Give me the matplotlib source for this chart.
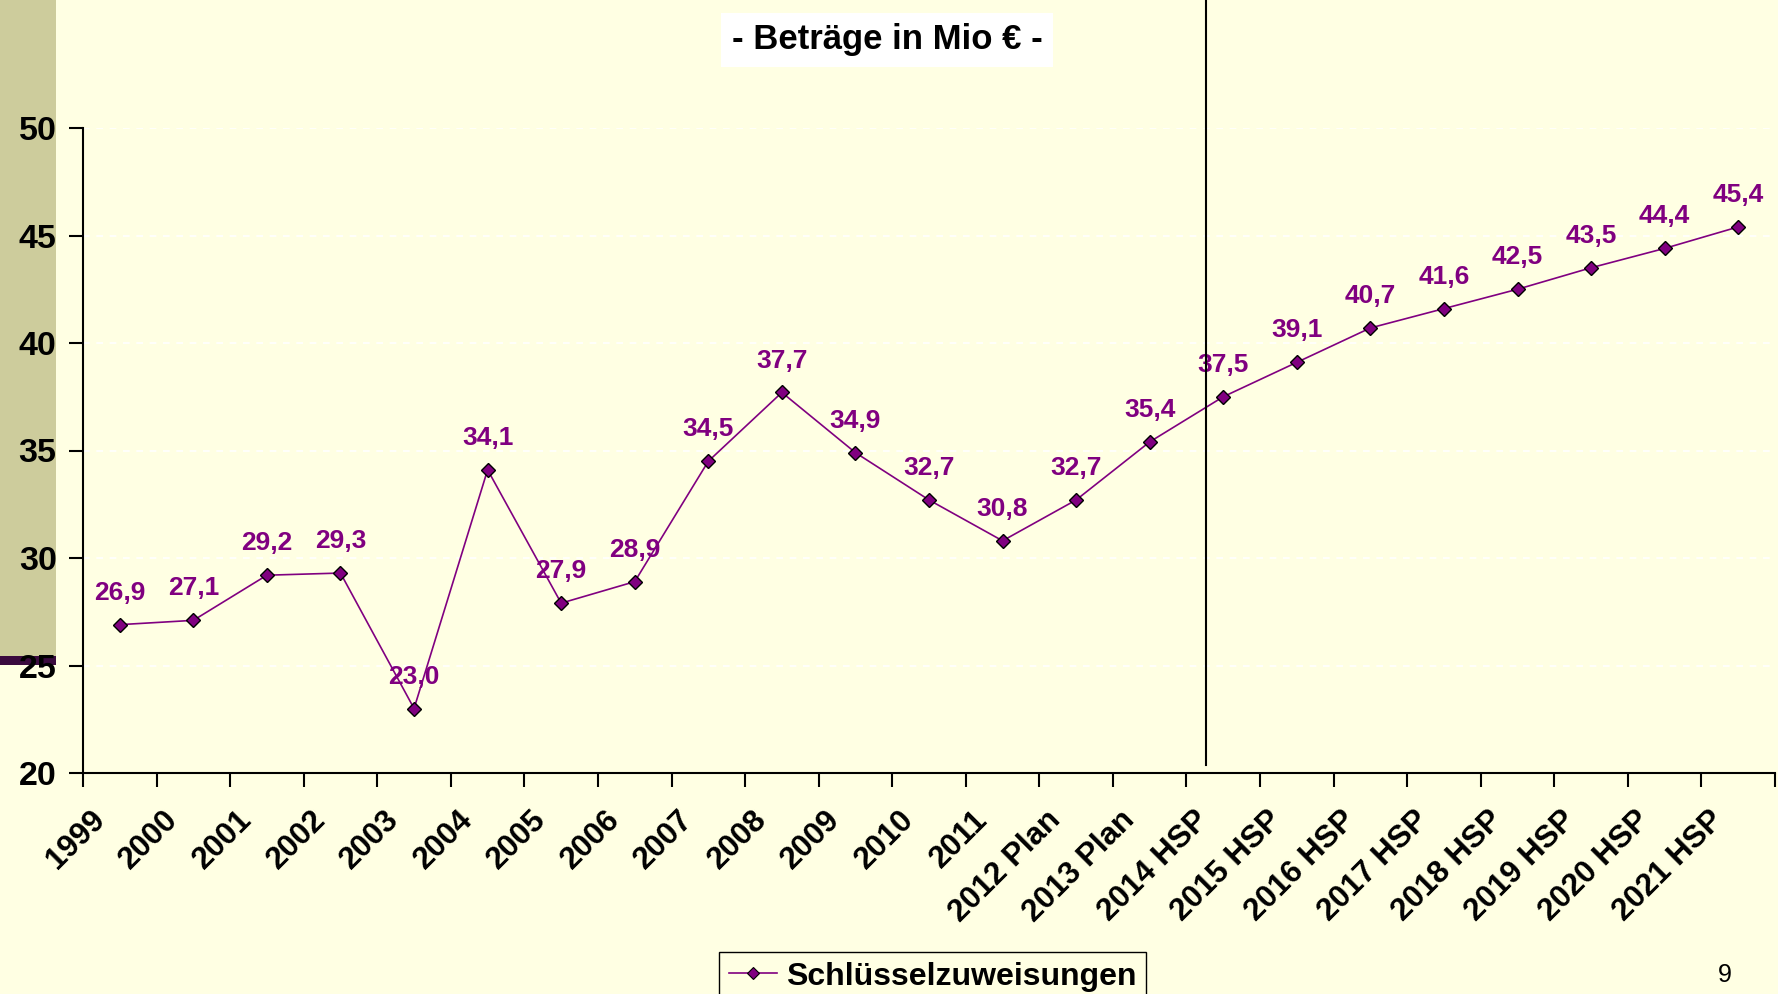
import matplotlib.pyplot as plt
from matplotlib.lines import Line2D
from matplotlib.patches import Rectangle
import matplotlib.transforms as mtransforms

# Data
years = ["1999", "2000", "2001", "2002", "2003", "2004", "2005", "2006",
         "2007", "2008", "2009", "2010", "2011", "2012 Plan", "2013 Plan",
         "2014 HSP", "2015 HSP", "2016 HSP", "2017 HSP", "2018 HSP",
         "2019 HSP", "2020 HSP", "2021 HSP"]
values = [26.9, 27.1, 29.2, 29.3, 23.0, 34.1, 27.9, 28.9, 34.5, 37.7, 34.9,
          32.7, 30.8, 32.7, 35.4, 37.5, 39.1, 40.7, 41.6, 42.5, 43.5, 44.4, 45.4]
y_ticks = [20, 25, 30, 35, 40, 45, 50]

bg = "#FFFFE3"
purple = "#800080"

plt.rcParams['font.family'] = ['Liberation Sans', 'DejaVu Sans']

fig = plt.figure(figsize=(17.78, 9.94), dpi=100, facecolor=bg)
W, H = 1778, 994

# left decorative strip
fig.patches.append(Rectangle((0, 1 - 656 / H), 56 / W, 656 / H, transform=fig.transFigure,
                             facecolor="#CDCC9C", edgecolor="none", zorder=0))
fig.patches.append(Rectangle((0, 1 - 665 / H), 56 / W, 9 / H, transform=fig.transFigure,
                             facecolor="#3A0A3E", edgecolor="none", zorder=0))

ax = fig.add_axes([83 / W, 1 - 773 / H, (1775 - 83) / W, (773 - 128) / H])
ax.set_facecolor("none")
ax.set_zorder(2)

x = list(range(len(years)))
ax.plot(x, values, color=purple, lw=1.2, marker="D", ms=7,
        markerfacecolor=purple, markeredgecolor="black", mew=1, zorder=3)

for xi, v in zip(x, values):
    ax.annotate(f"{v:.1f}".replace(".", ","), (xi, v), xytext=(0, 23),
                textcoords="offset points", ha="center", va="center",
                color=purple, fontsize=19, fontweight="bold", zorder=4)

ax.set_xlim(-0.5, len(years) - 0.5)
ax.set_ylim(20, 50)
ax.set_yticks(y_ticks)
ax.set_yticklabels([str(t) for t in y_ticks], fontsize=24.5, fontweight="bold")

for t in y_ticks[1:]:
    ax.axhline(t, color="white", lw=1.2, ls=(0, (4, 4)), zorder=1)

# category boundaries as ticks, labels at centers
ax.set_xticks([i - 0.5 for i in range(len(years) + 1)])
ax.set_xticklabels([])
ax.set_xticks(x, minor=True)
ax.set_xticklabels(years, minor=True, rotation=45, ha="right", va="top",
                   fontsize=22.5, fontweight="bold")
ax.tick_params(axis="x", which="minor", length=0, pad=23)
ax.tick_params(axis="x", which="major", length=10, width=1.5, direction="out")
ax.tick_params(axis="y", length=10, width=1.5, direction="out", pad=9)
offset = mtransforms.ScaledTranslation(-9 / 100, 0, fig.dpi_scale_trans)
for lab in ax.get_xticklabels(minor=True):
    lab.set_transform(lab.get_transform() + offset)

for s in ["top", "right"]:
    ax.spines[s].set_visible(False)
for s in ["left", "bottom"]:
    ax.spines[s].set_linewidth(1.5)

# separator line between plan and HSP years
fig.add_artist(Line2D([1206 / W, 1206 / W], [1 - 765 / H, 1.0], transform=fig.transFigure,
                      color="black", lw=1.5, zorder=5))

# title box
fig.text(887 / W, 1 - 40 / H, "- Beträge in Mio € -", ha="center", va="center",
         fontsize=25, fontweight="bold",
         bbox=dict(facecolor="white", edgecolor="none", boxstyle="square,pad=0.3"))

# legend
handle = Line2D([], [], color=purple, lw=1.2, marker="D", ms=6,
                markerfacecolor=purple, markeredgecolor="black", mew=0.8)
fig.legend([handle], ["Schlüsselzuweisungen"], loc="upper left",
           bbox_to_anchor=(719 / W, 1 - 952 / H), borderaxespad=0,
           frameon=True, fancybox=False, edgecolor="black", facecolor=bg,
           framealpha=1, handlelength=1.5, handletextpad=0.3, borderpad=0.3,
           prop=dict(size=23, weight="bold"))

fig.text(1725 / W, 1 - 975 / H, "9", ha="center", va="center", fontsize=18)

fig.savefig("out.png", dpi=100, facecolor=bg)
